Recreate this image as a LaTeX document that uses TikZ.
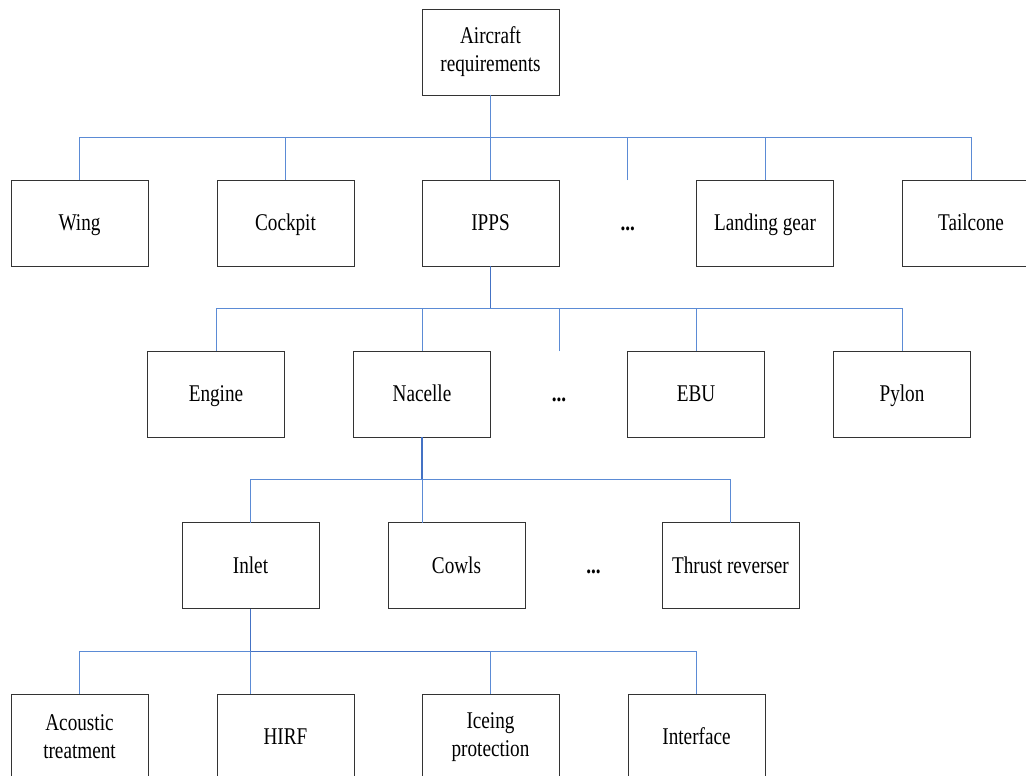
\documentclass[tikz,border=0pt]{standalone}
\usepackage{fontspec}
\setmainfont[FakeStretch=0.8]{Liberation Serif}
\usetikzlibrary{positioning, calc}
\definecolor{linkblue}{HTML}{5B8BD5}
\definecolor{trunkblue}{HTML}{4472C4}

\begin{document}
\begin{tikzpicture}[
        x=1pt, y=-1pt,
        box/.style={draw=black!80, line width=0.9pt, minimum width=137pt, minimum height=86pt,
                    inner sep=2pt, outer sep=0pt, align=center, font=\fontsize{24}{28}\selectfont},
        box1/.style={box, text height=17pt, text depth=2pt},
        gap/.style={inner sep=0pt, font=\fontsize{24}{28}\selectfont\bfseries},
        link/.style={draw=linkblue, line width=0.9pt},
        trunk/.style={draw=trunkblue, line width=1.5pt},
    ]
        \useasboundingbox (0,0) rectangle (1026,776);
        \clip (0,0) rectangle (1026,776);

        % root
        \node[box] (root) at (490.5,52) {Aircraft\\requirements};

        % row 1: aircraft parts
        \node[box1]                     (wing) at (79.5,223) {Wing};
        \node[box1, right=69pt of wing]  (cock) {Cockpit};
        \node[box1, right=68pt of cock]  (ipps) {IPPS};
        \node[box1, right=137.5pt of ipps] (land) {Landing gear};
        \node[box1, right=69pt of land]  (tail) {Tailcone};
        \node[gap, anchor=base] (dots1) at ($(ipps.base)!0.5!(land.base)$) {...};

        % row 2: IPPS parts
        \node[box1]                    (eng) at (216,394) {Engine};
        \node[box1, right=69pt of eng]  (nac) {Nacelle};
        \node[box1, right=137pt of nac] (ebu) {EBU};
        \node[box1, right=69pt of ebu]  (pyl) {Pylon};
        \node[gap, anchor=base] (dots2) at ($(nac.base)!0.5!(ebu.base)$) {...};

        % row 3: nacelle parts
        \node[box1]                     (inl) at (250.5,565.5) {Inlet};
        \node[box1, right=69pt of inl]   (cowl) {Cowls};
        \node[box1, right=137pt of cowl] (thr) {Thrust reverser};
        \node[gap, anchor=base] (dots3) at ($(cowl.base)!0.5!(thr.base)$) {...};

        % row 4: inlet requirements
        \node[box]                     (aco) at (79.5,737) {Acoustic\\treatment};
        \node[box1, right=69pt of aco]  (hirf) {HIRF};
        \node[box, right=68pt of hirf]  (ice) {Iceing\\protection};
        \node[box1, right=69pt of ice]  (ifc) {Interface};

        % bus 1
        \coordinate (b1) at ($(root.south)!0.5!(root.south |- ipps.north)$);
        \coordinate (d1) at ($(ipps.north)!0.5!(land.north)$);
        \draw[link] (root.south) -- (b1) -- (ipps.north);
        \draw[link] (wing.north) |- (b1) -| (tail.north);
        \draw[link] (cock.north) -- (cock.north |- b1);
        \draw[link] (land.north) -- (land.north |- b1);
        \draw[link] (d1) -- (d1 |- b1);

        % bus 2
        \coordinate (b2) at ($(ipps.south)!0.5!(ipps.south |- eng.north)$);
        \coordinate (d2) at ($(nac.north)!0.5!(ebu.north)$);
        \draw[trunk] (ipps.south) -- (b2);
        \draw[link] (eng.north) |- (b2) -| (pyl.north);
        \draw[link] (nac.north) -- (nac.north |- b2);
        \draw[link] (ebu.north) -- (ebu.north |- b2);
        \draw[link] (d2) -- (d2 |- b2);

        % bus 3 (nacelle line runs on into the cowls box)
        \coordinate (b3) at ($(nac.south)!0.5!(nac.south |- inl.north)$);
        \draw[trunk] (nac.south) -- (b3);
        \draw[link] (b3) -- (b3 |- cowl.north);
        \draw[link] (inl.north) |- (b3) -| (thr.north);

        % bus 4 (inlet line runs on into the HIRF box)
        \coordinate (b4) at ($(inl.south)!0.5!(inl.south |- aco.north)$);
        \draw[trunk] (inl.south) -- (b4);
        \draw[link] (b4) -- (b4 |- hirf.north);
        \draw[link] (aco.north) |- (b4) -| (ifc.north);
        \draw[trunk] (b4) -- (b4 -| ice.north);
        \draw[link] (ice.north) -- (ice.north |- b4);
\end{tikzpicture}
\end{document}
